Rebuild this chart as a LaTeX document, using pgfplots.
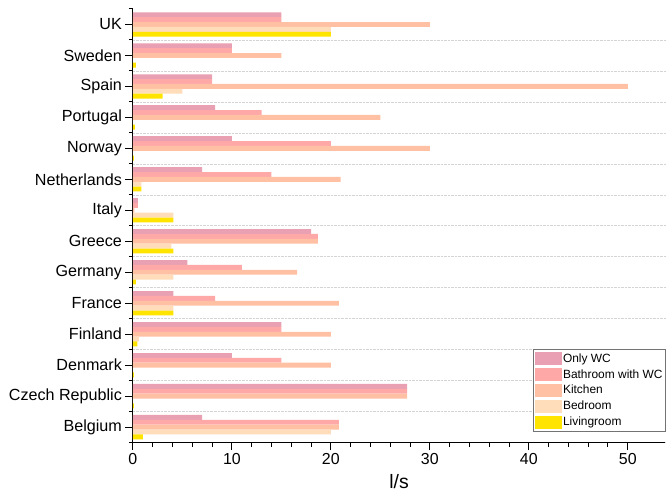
\documentclass[border=0pt]{standalone}
\usepackage{pgfplots}
\pgfplotsset{compat=1.18}
\usepackage{fontspec}
\setmainfont{Liberation Sans}
\definecolor{cWC}{RGB}{232,160,178}
\definecolor{cBath}{RGB}{255,168,168}
\definecolor{cKit}{RGB}{255,192,164}
\definecolor{cBed}{RGB}{255,220,186}
\definecolor{cLiv}{RGB}{255,228,0}
\begin{document}
\begin{tikzpicture}
\begin{axis}[
  name=ax,
  scale only axis,
  width=533bp, height=434bp,
  xbar, bar width=0.157,
  xmin=0, xmax=53.8,
  ymin=-0.5, ymax=13.5,
  axis x line*=bottom, axis y line*=left,
  axis line style={line width=1.2bp, black},
  tick style={black, line width=1bp},
  tick align=outside,
  major tick length=7.5bp, minor tick length=4bp,
  xtick={0,10,20,30,40,50},
  minor x tick num=4,
  ytick={0,...,13},
  yticklabels={Belgium\hspace{4.5bp},Czech Republic,Denmark,Finland,France,Germany,Greece,Italy,Netherlands,Norway,Portugal,Spain,Sweden,UK},
  minor ytick={-0.5,0.5,...,12.5},
  yminorgrids=true,
  minor grid style={densely dotted, black!17, line width=0.6bp},
  extra y ticks={13.5},
  extra y tick labels={},
  extra y tick style={grid=none, major tick length=4bp},
  /pgf/number format/assume math mode=true,
  xticklabel style={font=\fontsize{16}{19}\selectfont},
  yticklabel style={font=\fontsize{16.2}{19}\selectfont},
  xlabel={l/s},
  xlabel style={font=\fontsize{19.5}{22}\selectfont, yshift=-3bp},
  legend cell align=left,
  legend style={at={(1,0.025)}, anchor=south east,
    font=\fontsize{12}{14}\selectfont,
    draw=black!55, line width=0.6bp, inner sep=1.5bp, row sep=1bp,
    nodes={inner sep=1bp, text height=10bp, text depth=3bp},
    /tikz/every even column/.append style={column sep=3bp}},
  legend image code/.code={\fill[#1] (-2bp,-6.5bp) rectangle (25bp,6.5bp);},
]
\addplot[fill=cWC, draw=none, bar shift=0.314] coordinates {
(7,0) (27.7,1) (10,2) (15,3) (4.1,4) (5.5,5) (18,6) (0.5,7) (7,8) (10,9) (8.3,10) (8,11) (10,12) (15,13)};
\addplot[fill=cBath, draw=none, bar shift=0.157] coordinates {
(20.8,0) (27.7,1) (15,2) (15,3) (8.3,4) (11,5) (18.7,6) (0.5,7) (14,8) (20,9) (13,10) (8,11) (10,12) (15,13)};
\addplot[fill=cKit, draw=none, bar shift=0] coordinates {
(20.8,0) (27.7,1) (20,2) (20,3) (20.8,4) (16.6,5) (18.7,6) (0.15,7) (21,8) (30,9) (25,10) (50,11) (15,12) (30,13)};
\addplot[fill=cBed, draw=none, bar shift=-0.157] coordinates {
(20,0) (0,1) (0,2) (0.6,3) (4.1,4) (4.1,5) (3.9,6) (4.1,7) (0.85,8) (0,9) (0,10) (5,11) (0,12) (20,13)};
\addplot[fill=cLiv, draw=none, bar shift=-0.314] coordinates {
(1,0) (0.1,1) (0.1,2) (0.45,3) (4.1,4) (0.3,5) (4.1,6) (4.1,7) (0.85,8) (0.1,9) (0.2,10) (3,11) (0.3,12) (20,13)};
\legend{Only WC, Bathroom with WC, Kitchen, Bedroom, Livingroom}
\end{axis}
\path ([xshift=-133bp,yshift=-61bp]ax.south west) rectangle ([yshift=9bp]ax.north east);
\end{tikzpicture}
\end{document}
